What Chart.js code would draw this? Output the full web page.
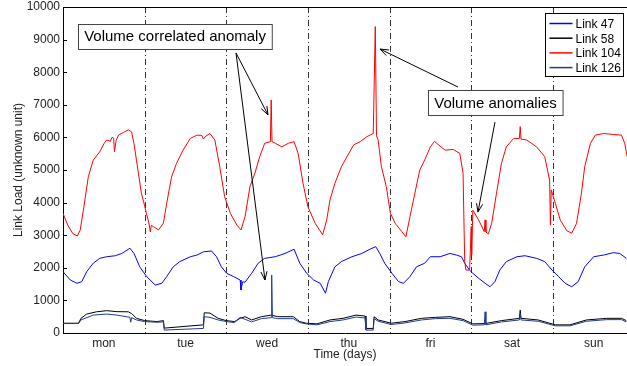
<!DOCTYPE html>
<html>
<head>
<meta charset="utf-8">
<script src="https://cdn.jsdelivr.net/npm/chart.js@4"></script>
<style>
html, body { margin: 0; padding: 0; background: #fff; overflow: hidden; }
#wrap { width: 627px; height: 366px; position: relative; }
</style>
</head>
<body>
<div id="wrap"><canvas id="chart"></canvas></div>
<script>
// day labels, placed at the middle of each day
const dayLabels = ['mon', 'tue', 'wed', 'thu', 'fri', 'sat', 'sun'];
const dayCenters = [0.5, 1.5, 2.5, 3.5, 4.5, 5.5, 6.5];
const dayBounds = [1, 2, 3, 4, 5, 6];
const yTicks = [0, 1000, 2000, 3000, 4000, 5000, 6000, 7000, 8000, 9000, 10000];

// Link 47 (blue)
const link47T = [0.00, 0.09, 0.17, 0.23, 0.29, 0.37, 0.45, 0.535, 0.64, 0.72, 0.82, 0.87, 0.94, 1.025, 1.13, 1.21, 1.27, 1.35, 1.43, 1.56, 1.64, 1.72, 1.82, 1.88, 1.94, 2.005, 2.09, 2.17, 2.18, 2.20, 2.23, 2.31, 2.39, 2.47, 2.60, 2.72, 2.83, 2.90, 2.985, 3.07, 3.15, 3.215, 3.25, 3.33, 3.41, 3.54, 3.66, 3.76, 3.83, 3.88, 3.94, 4.03, 4.11, 4.17, 4.25, 4.33, 4.43, 4.50, 4.62, 4.74, 4.82, 4.88, 4.92, 4.98, 5.02, 5.09, 5.17, 5.23, 5.29, 5.35, 5.43, 5.56, 5.66, 5.80, 5.90, 5.99, 6.07, 6.15, 6.23, 6.31, 6.39, 6.50, 6.62, 6.74, 6.82, 6.90];
const link47V = [1880, 1625, 1525, 1575, 1880, 2140, 2290, 2340, 2370, 2440, 2600, 2440, 2030, 1730, 1470, 1525, 1730, 2030, 2190, 2340, 2390, 2490, 2515, 2340, 2030, 1830, 1730, 1625, 1320, 1570, 1560, 1830, 2140, 2290, 2340, 2440, 2570, 2140, 1830, 1625, 1525, 1220, 1575, 2030, 2190, 2340, 2440, 2570, 2650, 2440, 2140, 1830, 1575, 1525, 1730, 2030, 2140, 2340, 2340, 2440, 2390, 2340, 2140, 1930, 1830, 1680, 1525, 1420, 1575, 1930, 2190, 2340, 2370, 2290, 2190, 1930, 1730, 1525, 1420, 1575, 2030, 2340, 2390, 2465, 2440, 2290];

// Link 58 (black)
const link58T = [0.00, 0.19, 0.22, 0.29, 0.41, 0.535, 0.66, 0.80, 0.82, 0.84, 0.90, 1.00, 1.15, 1.23, 1.24, 1.72, 1.73, 1.80, 1.90, 2.00, 2.10, 2.17, 2.23, 2.31, 2.43, 2.55, 2.63, 2.82, 2.90, 2.98, 3.11, 3.27, 3.43, 3.59, 3.70, 3.71, 3.80, 3.81, 3.86, 4.02, 4.19, 4.39, 4.56, 4.74, 4.90, 5.02, 5.17, 5.37, 5.59, 5.60, 5.61, 5.82, 6.03, 6.21, 6.41, 6.66, 6.84, 6.90];
const link58V = [300, 300, 450, 580, 650, 685, 655, 650, 620, 600, 450, 380, 350, 380, 150, 250, 620, 610, 450, 380, 350, 450, 500, 400, 500, 550, 500, 500, 350, 300, 280, 400, 450, 550, 520, 140, 140, 500, 400, 300, 350, 450, 480, 500, 420, 280, 290, 380, 450, 700, 450, 400, 250, 250, 400, 450, 450, 380];

// Link 104 (red)
const link104T = [0.00, 0.06, 0.12, 0.175, 0.21, 0.25, 0.31, 0.37, 0.45, 0.50, 0.535, 0.58, 0.60, 0.62, 0.63, 0.65, 0.68, 0.74, 0.80, 0.84, 0.87, 0.90, 0.96, 1.00, 1.02, 1.05, 1.07, 1.08, 1.11, 1.17, 1.23, 1.27, 1.33, 1.39, 1.47, 1.56, 1.64, 1.70, 1.72, 1.75, 1.80, 1.86, 1.92, 1.98, 2.05, 2.13, 2.18, 2.23, 2.29, 2.35, 2.41, 2.47, 2.54, 2.55, 2.56, 2.60, 2.68, 2.76, 2.83, 2.88, 2.94, 3.00, 3.09, 3.18, 3.23, 3.27, 3.33, 3.41, 3.49, 3.56, 3.64, 3.72, 3.80, 3.825, 3.84, 3.86, 3.90, 3.96, 4.01, 4.07, 4.15, 4.20, 4.25, 4.31, 4.37, 4.43, 4.50, 4.55, 4.60, 4.68, 4.78, 4.86, 4.90, 4.92, 4.935, 4.98, 5.00, 5.005, 5.02, 5.09, 5.16, 5.17, 5.18, 5.21, 5.25, 5.31, 5.37, 5.43, 5.52, 5.59, 5.60, 5.61, 5.68, 5.80, 5.90, 5.96, 5.97, 5.98, 6.03, 6.09, 6.17, 6.23, 6.29, 6.35, 6.39, 6.46, 6.52, 6.62, 6.74, 6.84, 6.88, 6.91];
const link104V = [3670, 3300, 3050, 2975, 3150, 3770, 4790, 5300, 5560, 5800, 5920, 5880, 6000, 5980, 5560, 5900, 6070, 6150, 6230, 6170, 5800, 5300, 4290, 3900, 3680, 3400, 3100, 3300, 3260, 3160, 3370, 3980, 4790, 5200, 5610, 5970, 6070, 6060, 5950, 6040, 6120, 5920, 5100, 4180, 3670, 3310, 3160, 3570, 4490, 4900, 5410, 5820, 5870, 7150, 5870, 5820, 5710, 5820, 5870, 5510, 4590, 3870, 3360, 3010, 3470, 4080, 4590, 5100, 5460, 5770, 5870, 6020, 6120, 9400, 6050, 5920, 5100, 4490, 3670, 3360, 3110, 2950, 3570, 4290, 5000, 5310, 5710, 5880, 5770, 5610, 5630, 5510, 4900, 2200, 1930, 1930, 3260, 2400, 3770, 3470, 3110, 3470, 3100, 3040, 3360, 4290, 5200, 5710, 5970, 5970, 6330, 5950, 5920, 5710, 5410, 4690, 3310, 4390, 3980, 3470, 3140, 3060, 3360, 4290, 5100, 5820, 6070, 6120, 6090, 6070, 5820, 5410];

// Link 126 (dark blue)
const link126T = [0.00, 0.19, 0.22, 0.37, 0.535, 0.66, 0.82, 0.83, 0.84, 0.90, 1.00, 1.15, 1.23, 1.24, 1.72, 1.73, 1.80, 1.90, 2.00, 2.10, 2.17, 2.23, 2.31, 2.43, 2.55, 2.556, 2.565, 2.63, 2.82, 2.90, 2.98, 3.11, 3.27, 3.43, 3.59, 3.70, 3.71, 3.80, 3.81, 3.86, 4.02, 4.19, 4.39, 4.56, 4.74, 4.90, 5.02, 5.16, 5.17, 5.18, 5.37, 5.59, 5.60, 5.61, 5.82, 6.03, 6.21, 6.41, 6.66, 6.84, 6.90];
const link126V = [290, 290, 400, 550, 580, 550, 480, 330, 470, 400, 350, 330, 340, 90, 140, 500, 480, 400, 350, 320, 480, 420, 340, 440, 470, 1780, 470, 440, 440, 320, 280, 250, 350, 400, 490, 460, 90, 90, 440, 360, 260, 310, 400, 440, 450, 380, 240, 250, 650, 250, 340, 400, 600, 400, 360, 220, 220, 360, 410, 410, 340];

// text boxes and arrows, in data units (days, load)
const notes = [
    { text: 'Volume correlated anomaly', x: 1.372, y: 9110 },
    { text: 'Volume anomalies', x: 5.298, y: 7070 }
];
const arrows = [
    { from: [2.119, 8590], to: [2.511, 6690] },
    { from: [2.119, 8590], to: [2.474, 1625] },
    { from: [4.838, 7545], to: [3.883, 8710] },
    { from: [5.291, 6470], to: [5.083, 3710] }
];

const FONT = 'Liberation Sans, Arial, Helvetica, sans-serif';

function pairs(t, v) {
    return t.map((x, i) => ({ x: x, y: v[i] }));
}

const matlabLook = {
    id: 'matlabLook',
    beforeDatasetsDraw(chart) {
        const { ctx, chartArea: a, scales: { x } } = chart;
        ctx.save();
        ctx.strokeStyle = '#333';
        ctx.lineWidth = 1;
        ctx.setLineDash([6, 3, 1, 3]);
        dayBounds.forEach(d => {
            const px = Math.round(x.getPixelForValue(d)) + 0.5;
            ctx.beginPath();
            ctx.moveTo(px, a.top);
            ctx.lineTo(px, a.bottom);
            ctx.stroke();
        });
        ctx.restore();
    },
    afterDatasetsDraw(chart) {
        const { ctx, chartArea: a, scales: { x, y } } = chart;
        ctx.save();
        // top border + inward y ticks
        ctx.strokeStyle = '#000';
        ctx.lineWidth = 1;
        ctx.beginPath();
        ctx.moveTo(a.left, a.top + 0.5);
        ctx.lineTo(a.right, a.top + 0.5);
        yTicks.forEach(v => {
            const py = Math.round(y.getPixelForValue(v)) + 0.5;
            ctx.moveTo(a.left, py);
            ctx.lineTo(a.left + 4, py);
        });
        ctx.stroke();

        // arrows
        ctx.strokeStyle = '#000';
        arrows.forEach(ar => {
            const x0 = x.getPixelForValue(ar.from[0]), y0 = y.getPixelForValue(ar.from[1]);
            const x1 = x.getPixelForValue(ar.to[0]), y1 = y.getPixelForValue(ar.to[1]);
            const ang = Math.atan2(y1 - y0, x1 - x0);
            ctx.beginPath();
            ctx.moveTo(x0, y0);
            ctx.lineTo(x1, y1);
            ctx.moveTo(x1 - 9 * Math.cos(ang - 0.35), y1 - 9 * Math.sin(ang - 0.35));
            ctx.lineTo(x1, y1);
            ctx.lineTo(x1 - 9 * Math.cos(ang + 0.35), y1 - 9 * Math.sin(ang + 0.35));
            ctx.stroke();
        });

        // text boxes
        ctx.font = '15px ' + FONT;
        ctx.textAlign = 'center';
        ctx.textBaseline = 'middle';
        notes.forEach(n => {
            const cx = x.getPixelForValue(n.x), cy = y.getPixelForValue(n.y);
            const w = ctx.measureText(n.text).width + 12;
            const h = 25;
            const bx = Math.round(cx - w / 2) + 0.5, by = Math.round(cy - h / 2) + 0.5;
            ctx.fillStyle = '#fff';
            ctx.fillRect(bx, by, w, h);
            ctx.strokeStyle = '#444';
            ctx.strokeRect(bx, by, w, h);
            ctx.fillStyle = '#000';
            ctx.fillText(n.text, cx, cy + 1);
        });

        // legend
        const lw = 78, lh = 63;
        const lx = Math.round(a.right - 4 - lw) + 0.5, ly = Math.round(a.top + 6) + 0.5;
        ctx.fillStyle = '#fff';
        ctx.fillRect(lx, ly, lw, lh);
        ctx.strokeStyle = '#000';
        ctx.strokeRect(lx, ly, lw, lh);
        ctx.font = '12px ' + FONT;
        ctx.textAlign = 'left';
        chart.data.datasets.forEach((ds, i) => {
            const ry = ly + 10 + i * 14.7;
            ctx.strokeStyle = ds.borderColor;
            ctx.lineWidth = 1.5;
            ctx.beginPath();
            ctx.moveTo(lx + 4, ry);
            ctx.lineTo(lx + 27, ry);
            ctx.stroke();
            ctx.fillStyle = '#000';
            ctx.fillText(ds.label, lx + 30, ry + 1);
        });
        ctx.restore();
    }
};

const lineStyle = { borderWidth: 1, pointRadius: 0, tension: 0, fill: false };

new Chart(document.getElementById('chart'), {
    type: 'line',
    data: {
        datasets: [
            { label: 'Link 47', data: pairs(link47T, link47V), borderColor: '#0000ff', order: 4, ...lineStyle },
            { label: 'Link 58', data: pairs(link58T, link58V), borderColor: '#000000', order: 3, ...lineStyle },
            { label: 'Link 104', data: pairs(link104T, link104V), borderColor: '#ff0000', order: 2, ...lineStyle },
            { label: 'Link 126', data: pairs(link126T, link126V), borderColor: '#24389c', order: 1, ...lineStyle }
        ]
    },
    options: {
        responsive: true,
        maintainAspectRatio: false,
        animation: false,
        devicePixelRatio: 1,
        layout: { padding: { top: 7, right: 0, bottom: 0, left: 0 } },
        plugins: { legend: { display: false }, tooltip: { enabled: false } },
        scales: {
            x: {
                type: 'linear',
                min: 0,
                max: 6.908,
                afterBuildTicks: s => { s.ticks = dayCenters.map(v => ({ value: v })); },
                afterFit: s => { s.height = 33; s.paddingLeft = 0; s.paddingRight = 0; },
                ticks: {
                    autoSkip: false,
                    maxRotation: 0,
                    padding: 3,
                    color: '#222',
                    font: { family: FONT, size: 12 },
                    callback: (v, i) => dayLabels[i]
                },
                grid: { display: false, drawTicks: false },
                border: { display: true, color: '#000', width: 1 },
                title: { display: true, text: 'Time (days)', color: '#222', font: { family: FONT, size: 12 }, padding: { top: 0, bottom: 4 } }
            },
            y: {
                min: 0,
                max: 10000,
                afterBuildTicks: s => { s.ticks = yTicks.map(v => ({ value: v })); },
                afterFit: s => { s.width = 63; s.paddingTop = 0; s.paddingBottom = 0; },
                ticks: {
                    padding: 3,
                    color: '#222',
                    font: { family: FONT, size: 12 },
                    callback: v => String(v)
                },
                grid: { display: false, drawTicks: false },
                border: { display: true, color: '#000', width: 1 },
                title: { display: true, text: 'Link Load (unknown unit)', color: '#222', font: { family: FONT, size: 12 }, padding: { top: 11, bottom: 0 } }
            }
        }
    },
    plugins: [matlabLook]
});
</script>
</body>
</html>
